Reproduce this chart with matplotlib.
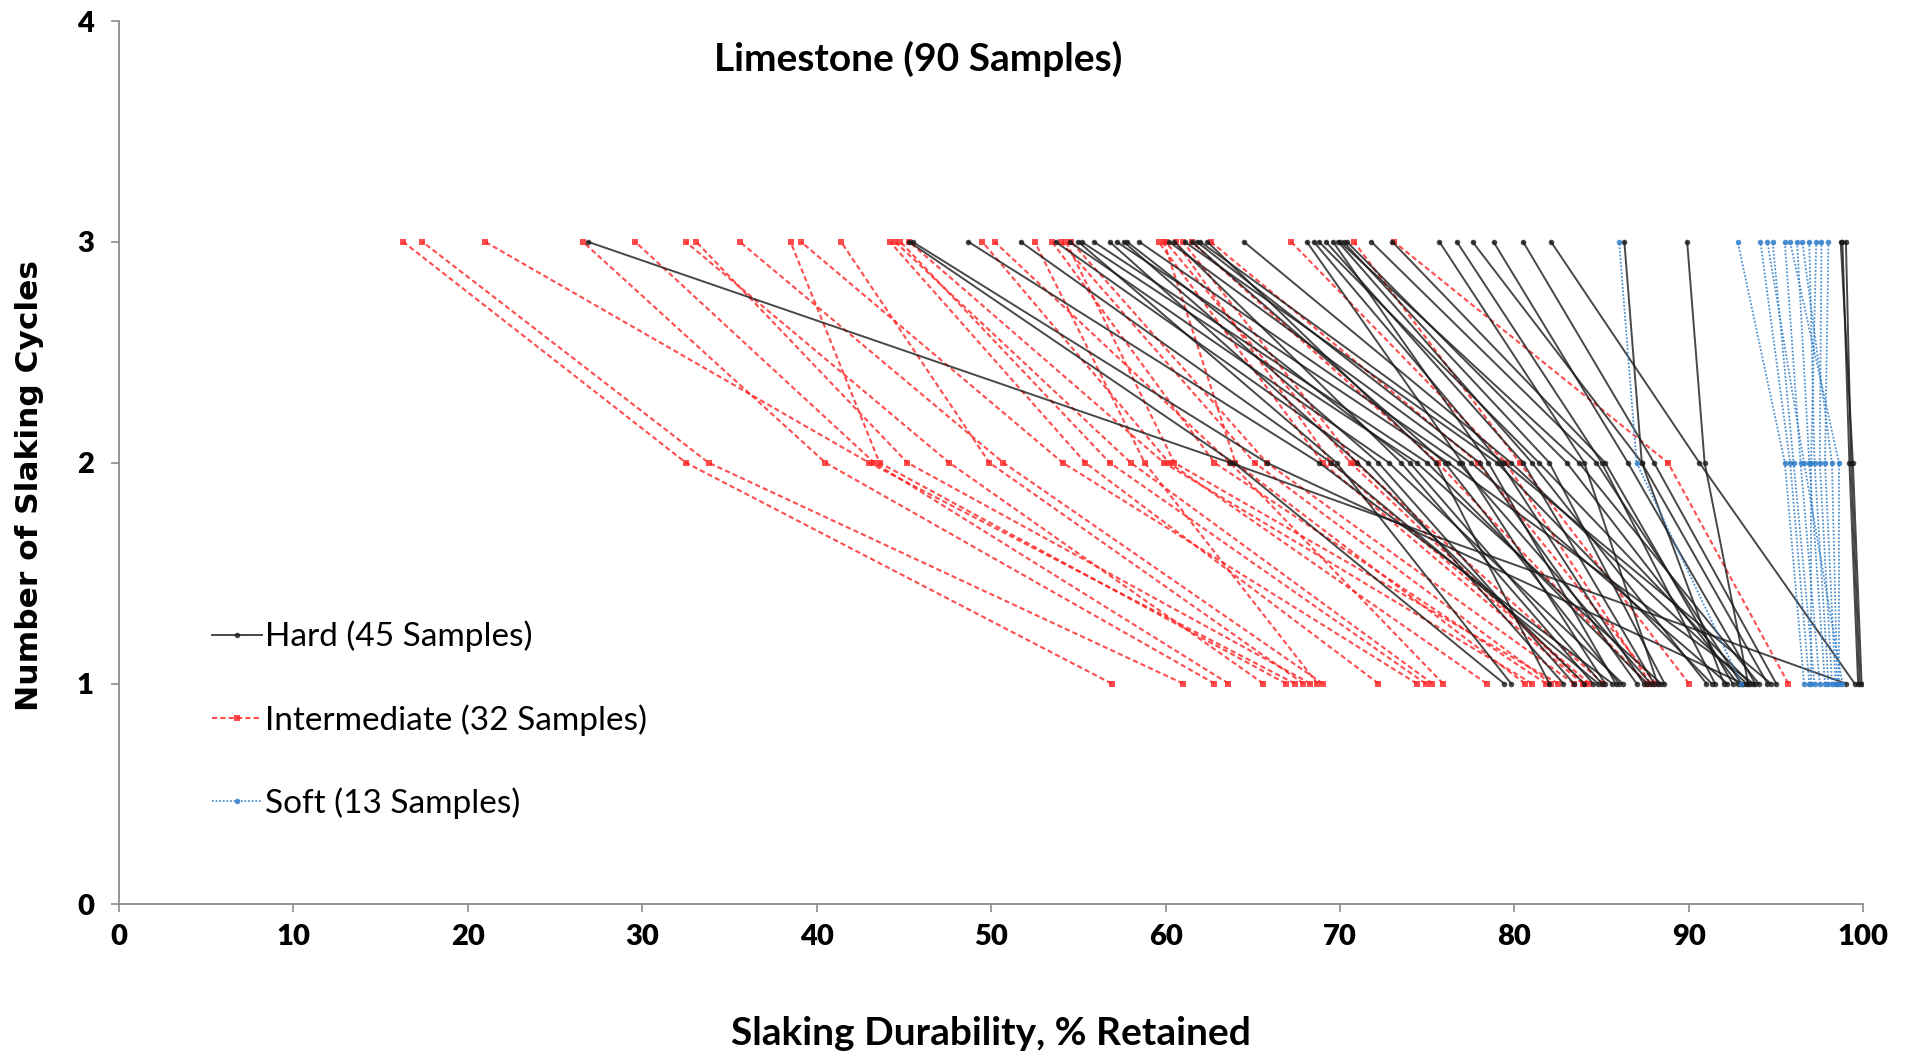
import matplotlib.pyplot as plt

# cycle values on the y axis
cycles = [1, 2, 3]

# Hard limestone (45 samples): % retained after cycle 1, 2, 3
hard_c1 = [99.0, 93.1, 79.4, 85.6, 84.8, 82.8, 86.2, 79.8, 88.4, 87.6,
           84.0, 93.7, 83.4, 85.0, 87.8, 92.2, 84.5, 91.3, 86.0, 87.0,
           94.7, 82.0, 93.3, 85.2, 87.4, 93.5, 88.0, 85.8, 91.0, 94.0,
           88.6, 92.8, 93.0, 92.5, 88.2, 91.5, 94.5, 93.8, 95.0, 99.5,
           93.4, 99.9, 99.7, 99.8, 92.0]
hard_c2 = [63.7, 65.8, 63.9, 68.8, 69.5, 71.6, 72.8, 69.8, 74.4, 75.0,
           71.0, 76.2, 72.2, 74.0, 76.8, 77.5, 73.5, 79.0, 76.0, 78.0,
           79.4, 75.5, 79.8, 77.0, 79.2, 81.4, 80.5, 78.5, 81.0, 83.7,
           82.0, 83.0, 84.7, 85.2, 84.0, 85.0, 87.3, 86.5, 88.0, 90.6,
           90.9, 99.4, 99.2, 99.3, 87.3]
hard_c3 = [26.9, 45.5, 45.3, 48.7, 51.7, 53.7, 54.5, 55.0, 55.2, 55.9,
           56.8, 57.2, 57.6, 57.8, 58.5, 60.2, 60.5, 61.1, 61.5, 61.8,
           62.0, 62.4, 64.5, 68.1, 68.5, 68.8, 69.2, 69.6, 69.9, 70.0,
           70.2, 70.4, 71.8, 73.0, 75.7, 76.7, 77.6, 78.8, 80.5, 82.1,
           89.9, 98.7, 98.8, 99.0, 86.3]

# Intermediate limestone (32 samples)
inter_c1 = [56.9, 61.0, 67.4, 62.8, 63.6, 65.6, 68.3, 69.0, 66.9, 74.4,
            67.9, 72.2, 75.3, 74.9, 81.0, 78.4, 75.9, 68.7, 81.8, 82.1,
            82.5, 83.4, 83.9, 84.0, 84.3, 85.1, 87.6, 88.1, 87.8, 90.0,
            95.7, 80.6]
inter_c2 = [32.5, 33.8, 43.0, 40.5, 43.3, 47.6, 45.2, 50.7, 43.6, 54.1,
            49.9, 55.4, 58.0, 56.8, 59.9, 60.2, 63.7, 58.8, 62.8, 65.1,
            60.5, 65.8, 69.0, 70.6, 69.5, 70.9, 75.6, 77.9, 79.5, 80.3,
            88.8, 64.0]
inter_c3 = [16.3, 17.4, 21.0, 26.6, 29.6, 32.5, 33.1, 35.6, 38.5, 39.1,
            41.4, 44.2, 44.5, 44.8, 45.3, 49.5, 50.2, 52.5, 53.5, 54.0,
            54.3, 54.6, 59.6, 60.0, 60.6, 61.0, 61.5, 62.6, 67.2, 70.8,
            73.1, 59.9]

# Soft limestone (13 samples)
soft_c1 = [93.0, 96.6, 96.9, 97.2, 97.5, 97.8, 98.0, 98.2, 98.4, 98.6,
           98.8, 97.0, 98.5]
soft_c2 = [87.0, 95.5, 95.8, 96.0, 96.4, 96.9, 97.2, 97.5, 97.8, 98.6,
           96.6, 97.0, 98.2]
soft_c3 = [86.0, 92.8, 94.1, 94.8, 95.5, 96.2, 96.9, 97.6, 98.0, 95.8,
           94.5, 97.3, 96.5]

x_ticks = [0, 10, 20, 30, 40, 50, 60, 70, 80, 90, 100]
y_ticks = [0, 1, 2, 3, 4]

RED = '#ff2020'
BLUE = '#2f7dc8'

fig = plt.figure(figsize=(19.19, 10.54), dpi=100)
ax = fig.add_axes([0.062, 0.142, 0.909, 0.838])

# intermediate first, then hard on top, soft last
for i in range(len(inter_c1)):
    ax.plot([inter_c1[i], inter_c2[i], inter_c3[i]], cycles,
            color=RED, linestyle=(0, (2.5, 1.5)), linewidth=1.5, alpha=0.8,
            marker='s', markersize=4, markeredgewidth=0,
            label='Intermediate (32 Samples)' if i == 0 else None)

for i in range(len(hard_c1)):
    ax.plot([hard_c1[i], hard_c2[i], hard_c3[i]], cycles,
            color='#1a1a1a', linestyle='-', linewidth=1.4, alpha=0.8,
            marker='o', markersize=4, markeredgewidth=0,
            label='Hard (45 Samples)' if i == 0 else None)

for i in range(len(soft_c1)):
    ax.plot([soft_c1[i], soft_c2[i], soft_c3[i]], cycles,
            color=BLUE, linestyle=(0, (1, 1)), linewidth=1.3, alpha=0.85,
            marker='o', markersize=4, markeredgewidth=0,
            label='Soft (13 Samples)' if i == 0 else None)

ax.set_xlim(0, 100)
ax.set_ylim(0, 4)
ax.set_xticks(x_ticks)
ax.set_yticks(y_ticks)
for s in ['top', 'right']:
    ax.spines[s].set_visible(False)
for s in ['left', 'bottom']:
    ax.spines[s].set_color('#8c8c8c')
    ax.spines[s].set_linewidth(1.3)
ax.tick_params(direction='out', length=6, color='#8c8c8c', width=1.2,
               labelsize=21, pad=8)
ax.tick_params(axis='y', pad=12)
for lab in ax.get_xticklabels() + ax.get_yticklabels():
    lab.set_fontweight('heavy')
    lab.set_family('Lato')

ax.text(45.8, 3.83, 'Limestone (90 Samples)', ha='center', va='center',
        fontsize=28, fontweight='bold', family='Lato')

ax.set_xlabel('Slaking Durability, % Retained', fontsize=28, fontweight='bold',
              family='Lato', labelpad=48)
ax.set_ylabel('Number of Slaking Cycles', fontsize=22.5, fontweight='bold')
ax.yaxis.set_label_coords(-0.043, 0.474)

handles, labels = ax.get_legend_handles_labels()
order = [labels.index('Hard (45 Samples)'),
         labels.index('Intermediate (32 Samples)'),
         labels.index('Soft (13 Samples)')]
leg = ax.legend([handles[k] for k in order], [labels[k] for k in order],
                loc='center left', bbox_to_anchor=(0.036, 0.209), frameon=False,
                prop={'family': 'Lato', 'size': 24}, handlelength=1.5,
                handletextpad=0.1, labelspacing=1.55)

fig.savefig('out.png', dpi=100)
